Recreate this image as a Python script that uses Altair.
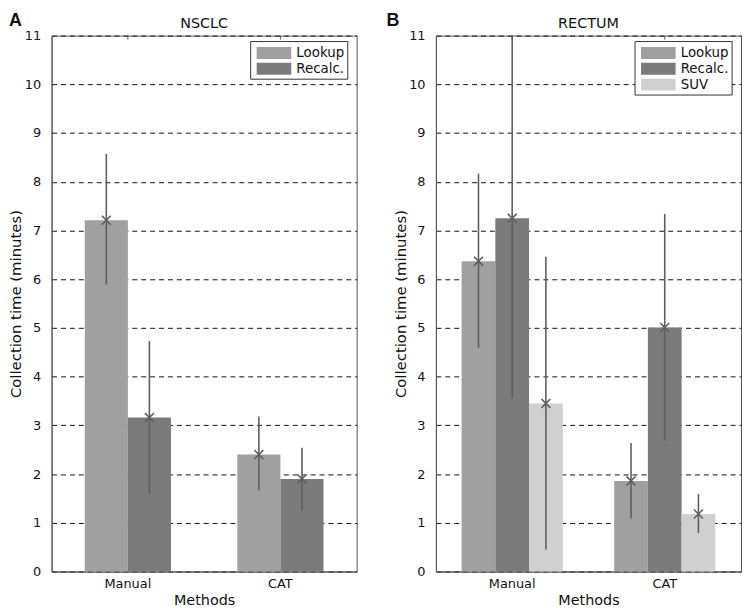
import altair as alt
import pandas as pd

methods = ["Manual", "CAT"]

# Panel A: NSCLC
a_series = ["Lookup", "Recalc."]
a_lookup_mean = [7.21, 2.40]
a_lookup_lo = [5.89, 1.67]
a_lookup_hi = [8.57, 3.18]
a_recalc_mean = [3.16, 1.90]
a_recalc_lo = [1.59, 1.25]
a_recalc_hi = [4.73, 2.54]

# Panel B: RECTUM
b_series = ["Lookup", "Recalc.", "SUV"]
b_lookup_mean = [6.37, 1.86]
b_lookup_lo = [4.59, 1.09]
b_lookup_hi = [8.17, 2.64]
b_recalc_mean = [7.25, 5.01]
b_recalc_lo = [3.56, 2.69]
b_recalc_hi = [11.0, 7.34]
b_suv_mean = [3.45, 1.18]
b_suv_lo = [0.45, 0.79]
b_suv_hi = [6.46, 1.59]

colors = {"Lookup": "#a0a0a0", "Recalc.": "#7b7b7b", "SUV": "#d0d0d0"}

FONT = "DejaVu Sans"
XPATH = "M-1,-1L1,1M1,-1L-1,1"
RECTPATH = "M-1.94,-0.67H1.94V0.67H-1.94Z"


def make_df(series, groups):
    rows = []
    for s, (m, lo, hi) in zip(series, groups):
        for i, meth in enumerate(methods):
            rows.append({"method": meth, "series": s, "mean": m[i], "lo": lo[i], "hi": hi[i]})
    return pd.DataFrame(rows)


df_a = make_df(a_series, [(a_lookup_mean, a_lookup_lo, a_lookup_hi),
                          (a_recalc_mean, a_recalc_lo, a_recalc_hi)])
df_b = make_df(b_series, [(b_lookup_mean, b_lookup_lo, b_lookup_hi),
                          (b_recalc_mean, b_recalc_lo, b_recalc_hi),
                          (b_suv_mean, b_suv_lo, b_suv_hi)])

W, H = 308, 541


def panel(df, series, title, letter, pad_inner, letter_x):
    xaxis = alt.Axis(labelAngle=0, ticks=False, labelPadding=6, titlePadding=3,
                     domainColor="#555", labelFontSize=13, titleFontSize=14.5)
    x = alt.X("method:N", sort=methods, title="Methods",
              scale=alt.Scale(paddingInner=pad_inner, paddingOuter=pad_inner / 2),
              axis=xaxis)
    xoff = alt.XOffset("series:N", sort=series,
                       scale=alt.Scale(domain=series, paddingInner=0, paddingOuter=0))

    def yenc(field):
        return alt.Y(field, title="Collection time (minutes)",
                     scale=alt.Scale(domain=[0, 11], nice=False, zero=True),
                     axis=alt.Axis(values=list(range(12)), ticks=False, labelPadding=11,
                                   grid=True, gridDash=[5, 4], gridColor="#111",
                                   gridWidth=1, domainColor="#555", labelFontSize=13,
                                   titleFontSize=15, titleX=-36, titleY=H / 2,
                                   titleBaseline="middle"))

    color = alt.Color("series:N", sort=series,
                      scale=alt.Scale(domain=series, range=[colors[s] for s in series]),
                      legend=alt.Legend(title=None, orient="none", legendX=200.5, legendY=5.5,
                                        padding=3,
                                        strokeColor="#333", fillColor="white",
                                        symbolType=RECTPATH, symbolSize=324,
                                        symbolStrokeWidth=0, symbolOpacity=1,
                                        symbolOffset=12, labelOffset=13.6,
                                        labelFont=FONT, labelFontSize=13.5,
                                        labelColor="#111", rowPadding=0))

    bars = alt.Chart(df).mark_bar(opacity=1).encode(x=x, xOffset=xoff, y=yenc("mean:Q"), color=color)
    err = alt.Chart(df).mark_rule(color="#5e5e5e", strokeWidth=1.6).encode(
        x=x, xOffset=xoff, y=yenc("lo:Q"), y2="hi:Q")
    pts = alt.Chart(df).mark_point(shape=XPATH, size=81, filled=False, color="#5e5e5e",
                                   strokeWidth=1.6, opacity=1).encode(
        x=x, xOffset=xoff, y=yenc("mean:Q"))
    topticks = alt.Chart(pd.DataFrame({"method": methods})).mark_rule(color="#555").encode(
        x=x, y=alt.value(0), y2=alt.value(4))
    lab = alt.Chart(pd.DataFrame({"t": [letter]})).mark_text(
        align="left", baseline="top", fontSize=18, fontWeight="bold",
        font="Liberation Sans", color="#111").encode(
        text="t:N", x=alt.value(letter_x), y=alt.value(-24))
    ttl = alt.Chart(pd.DataFrame({"t": [title]})).mark_text(
        align="center", baseline="alphabetic", fontSize=14.5, font=FONT,
        color="#111").encode(text="t:N", x=alt.value(W / 2), y=alt.value(-8))
    return alt.layer(bars, err, pts, topticks, lab, ttl).properties(width=W, height=H)


pa = panel(df_a, a_series, "NSCLC", "A", 0.435, -43)
pb = panel(df_b, b_series, "RECTUM", "B", 0.337, -50)

chart = alt.hconcat(pa, pb, spacing=28).resolve_scale(
    color="independent", xOffset="independent"
).resolve_legend(color="independent").properties(
    padding=0, background="white"
).configure_view(stroke="#555", strokeWidth=1).configure_axis(
    labelFont=FONT, titleFont=FONT, titleFontWeight="normal",
    labelColor="#111", titleColor="#111"
)

chart.save("out.html", embed_options={"renderer": "svg", "actions": False})
